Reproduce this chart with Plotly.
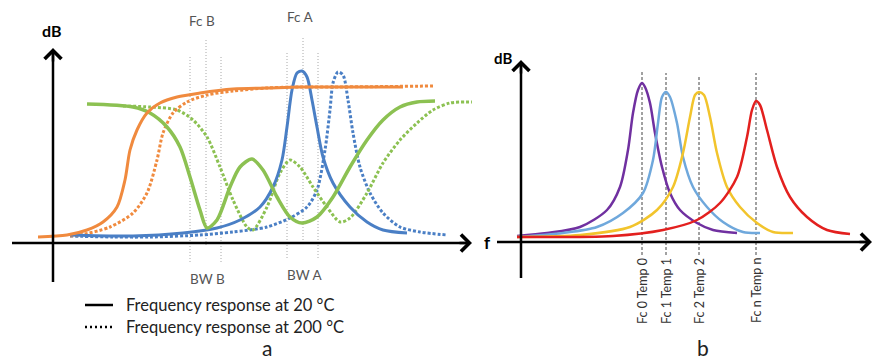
import plotly.graph_objects as go

# ---------------- Panel a (left): frequency units / level units ----------------
orange_20_f = [-15, 14, 34, 50, 64, 72, 77, 84, 94, 107, 124, 147, 180, 214, 247, 280, 314, 350]
orange_20_db = [6, 8, 13, 21, 36, 63, 93, 113, 130, 140, 146, 150, 154, 155, 156, 156, 156, 156]
orange_200_f = [17, 27, 57, 80, 94, 104, 110, 120, 134, 154, 180, 214, 247, 280, 380]
orange_200_db = [7, 8, 16, 30, 50, 83, 110, 130, 141, 148, 152, 155, 156, 156, 157]

green_20_f = [34, 80, 97, 114, 127, 137, 147, 154, 164, 177, 187, 199, 210, 224, 237, 249, 264, 280, 297, 314, 330, 347, 364, 382]
green_20_db = [139, 136, 130, 116, 96, 66, 33, 15, 23, 56, 76, 84, 73, 46, 26, 20, 26, 46, 76, 103, 123, 136, 141, 142]
green_200_f = [70, 97, 124, 140, 154, 167, 180, 194, 200, 214, 227, 237, 247, 260, 274, 287, 297, 314, 330, 347, 364, 380, 397, 419]
green_200_db = [137, 136, 133, 123, 106, 76, 43, 16, 13, 36, 70, 83, 76, 56, 36, 21, 25, 50, 80, 103, 120, 133, 140, 141]

blue_20_f = [17, 80, 130, 164, 187, 207, 220, 229, 234, 239, 244, 249, 254, 259, 264, 270, 280, 297, 314, 330, 354]
blue_20_db = [8, 7, 10, 15, 23, 36, 56, 83, 116, 153, 170, 172, 166, 143, 116, 86, 60, 36, 21, 13, 10]
blue_200_f = [17, 60, 97, 147, 180, 214, 237, 254, 264, 272, 277, 280, 285, 290, 295, 300, 307, 317, 330, 347, 367, 394]
blue_200_db = [7, 6, 6, 8, 11, 16, 25, 36, 53, 93, 133, 160, 171, 168, 143, 110, 76, 50, 30, 16, 11, 8]

# guide lines (BW B: left/center/right, BW A: left/center/right)
guide_f = [137, 153, 168, 234, 250, 265]
guide_top = [188, 203, 188, 191, 207, 192]
guide_bottom = [-19, -2, -19, -15, 0, -15]

left_labels = ["Fc B", "Fc A", "BW B", "BW A"]
left_label_f = [149, 247, 154, 251]
left_label_db = [222, 226, -36, -32]

legend_labels = ["Frequency response at 20 °C", "Frequency response at 200 °C"]

# ---------------- Panel b (right) ----------------
purple_f = [-4, 26, 59, 86, 99, 107, 112, 117, 121, 124, 129, 134, 141, 149, 159, 176, 192, 216]
purple_db = [6, 9, 15, 32, 55, 92, 129, 152, 159, 155, 139, 109, 75, 49, 32, 19, 12, 9]
lblue_f = [-4, 42, 76, 102, 122, 132, 137, 141, 145, 149, 156, 162, 172, 186, 202, 222, 239]
lblue_db = [5, 9, 15, 29, 49, 82, 119, 145, 150, 145, 119, 85, 55, 35, 20, 10, 9]
yellow_f = [-4, 59, 109, 136, 152, 162, 169, 174, 178, 183, 189, 196, 206, 219, 236, 252, 272]
yellow_db = [5, 7, 15, 32, 55, 89, 125, 147, 150, 147, 125, 89, 55, 35, 19, 10, 9]
red_f = [-4, 92, 142, 176, 199, 216, 226, 231, 235, 239, 246, 256, 269, 286, 306, 329]
red_db = [5, 6, 12, 22, 39, 65, 105, 132, 141, 137, 112, 75, 45, 25, 12, 8]

fc_f = [121, 145, 178, 235]
fc_top = [170, 169, 167, 169]
fc_labels = ["Fc 0 Temp 0", "Fc 1 Temp 1", "Fc 2 Temp 2", "Fc n Temp n"]

FONT = "Lato"
C_ORANGE = "#F08A3E"
C_GREEN = "#8CC152"
C_BLUE = "#4A7FC5"
C_PURPLE = "#7030A0"
C_LBLUE = "#6FA8DC"
C_YELLOW = "#F2C42C"
C_RED = "#E3201E"

DOT = "3px,2px"

fig = go.Figure()


def add(x, y, color, width=3, dash="solid", xa="x", ya="y"):
    fig.add_trace(go.Scatter(x=x, y=y, mode="lines", xaxis=xa, yaxis=ya,
                             line=dict(color=color, width=width, dash=dash,
                                       shape="spline", smoothing=0.8),
                             hoverinfo="skip", showlegend=False))


# left panel curves
add(blue_200_f, blue_200_db, C_BLUE, 3, DOT)
add(green_200_f, green_200_db, C_GREEN, 3, DOT)
add(orange_200_f, orange_200_db, C_ORANGE, 3, DOT)
add(blue_20_f, blue_20_db, C_BLUE, 3)
add(green_20_f, green_20_db, C_GREEN, 3.5)
add(orange_20_f, orange_20_db, C_ORANGE, 3)

# right panel curves
add(purple_f, purple_db, C_PURPLE, 2.5, xa="x2", ya="y2")
add(lblue_f, lblue_db, C_LBLUE, 2.5, xa="x2", ya="y2")
add(yellow_f, yellow_db, C_YELLOW, 2.5, xa="x2", ya="y2")
add(red_f, red_db, C_RED, 2.5, xa="x2", ya="y2")

shapes = []
for f, t, b in zip(guide_f, guide_top, guide_bottom):
    shapes.append(dict(type="line", xref="x", yref="y", x0=f, x1=f, y0=b, y1=t,
                       line=dict(color="#A8A8A8", width=1, dash="1px,2px"), layer="below"))
for f, t in zip(fc_f, fc_top):
    shapes.append(dict(type="line", xref="x2", yref="y2", x0=f, x1=f, y0=-13, y1=t,
                       line=dict(color="#444444", width=1, dash="3px,2px"), layer="below"))

# axes lines
shapes.append(dict(type="line", xref="x", yref="y", x0=0, x1=0, y0=-39, y1=190,
                   line=dict(color="black", width=2.5)))
shapes.append(dict(type="line", xref="x", yref="y", x0=-41, x1=414, y0=0, y1=0,
                   line=dict(color="black", width=2.5)))
shapes.append(dict(type="line", xref="x2", yref="y2", x0=0, x1=0, y0=-36, y1=177,
                   line=dict(color="black", width=2.5)))
shapes.append(dict(type="line", xref="x2", yref="y2", x0=-24, x1=346, y0=0, y1=0,
                   line=dict(color="black", width=2.5)))
# legend sample lines
shapes.append(dict(type="line", xref="x", yref="y", x0=32, x1=60, y0=-62, y1=-62,
                   line=dict(color="black", width=2.5)))
shapes.append(dict(type="line", xref="x", yref="y", x0=32, x1=60, y0=-84, y1=-84,
                   line=dict(color="black", width=2.5, dash="2px,3px")))

ann = []


def arrow(x, y, ax, ay, xr, yr):
    ann.append(dict(x=x, y=y, ax=ax, ay=ay, xref=xr, yref=yr, axref=xr, ayref=yr,
                    text="", showarrow=True, arrowhead=4, arrowsize=1.3,
                    arrowwidth=2.5, arrowcolor="black"))


arrow(0, 195, 0, 180, "x", "y")
arrow(419, 0, 405, 0, "x", "y")
arrow(0, 182, 0, 167, "x2", "y2")
arrow(351, 0, 337, 0, "x2", "y2")


def text(x, y, s, xr, yr, size=11, color="#555555", bold=False, angle=0,
         xanchor="center", yanchor="middle"):
    ann.append(dict(x=x, y=y, xref=xr, yref=yr, text=f"<b>{s}</b>" if bold else s,
                    showarrow=False, textangle=angle, xanchor=xanchor, yanchor=yanchor,
                    borderpad=0, font=dict(family=FONT, size=size, color=color)))


for s, f, d in zip(left_labels, left_label_f, left_label_db):
    text(f, d, s, "x", "y", 13.5, "#555555")
text(-1, 213, "dB", "x", "y", 16, "black", True)
text(434, 1, "f", "x", "y", 17, "black", True)
for i, s in enumerate(legend_labels):
    text(72, -62 - 22 * i, s, "x", "y", 16.5, "#222222", xanchor="left")
text(214, -118, "a", "x", "y", 21, "#222222", yanchor="bottom")

text(-18, 184, "dB", "x2", "y2", 15, "black", True)
text(362, 0, "f", "x2", "y2", 17, "black", True)
for f, s in zip(fc_f, fc_labels):
    text(f, -49, s, "x2", "y2", 12.5, "#333333", angle=-90)
text(182, -119, "b", "x2", "y2", 21, "#222222", yanchor="bottom")

# The page body has an 8px margin; the figure is sized/ranged so the drawing
# lands where the reference shows it inside the 886x362 window.
ax_common = dict(visible=False, showgrid=False, zeroline=False, fixedrange=True)
fig.update_layout(
    width=878, height=354, margin=dict(l=0, r=0, t=0, b=0),
    paper_bgcolor="white", plot_bgcolor="white", showlegend=False,
    xaxis=dict(range=[-45, 833], domain=[0, 1], **ax_common),
    yaxis=dict(range=[-119, 235], domain=[0, 1], **ax_common),
    xaxis2=dict(range=[-513, 365], domain=[0, 1], overlaying="x", **ax_common),
    yaxis2=dict(range=[-120, 234], domain=[0, 1], overlaying="y", **ax_common),
    shapes=shapes, annotations=ann,
)

fig.write_html("out.html")
